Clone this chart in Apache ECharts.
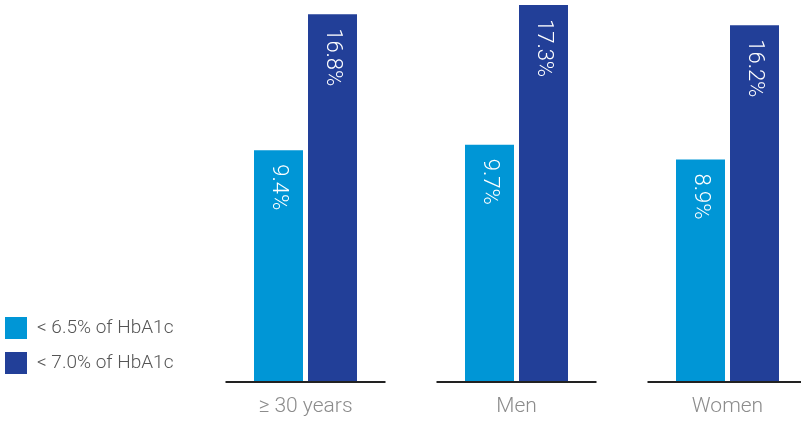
<!DOCTYPE html>
<html>
<head>
<meta charset="utf-8">
<style>
  html, body { margin: 0; padding: 0; background: #ffffff; }
  #chart { width: 801px; height: 423px; }
</style>
<script src="https://cdn.jsdelivr.net/npm/echarts@6/dist/echarts.min.js"></script>
</head>
<body>
<div id="chart"></div>
<script>
// Share of people reaching HbA1c targets, by group
const categories = ['\u2265 30 years', 'Men', 'Women'];
const seriesNames = ['< 6.5% of HbA1c', '< 7.0% of HbA1c'];
const below65 = [9.4, 9.7, 8.9];
const below70 = [16.8, 17.3, 16.2];

// Value axis does not start at zero; bars rise from the axis floor
const Y_MIN = -3.2;
const Y_MAX = 17.3;

const COLORS = ['#0096d6', '#223f98'];
const BAR_W = 49;
const BAR_GAP = 5;
const FONT_FAMILY = 'Roboto, "Liberation Sans", sans-serif';
const LABEL_FONT = '300 22px ' + FONT_FAMILY;

function barRenderer(side) {
  return function (params, api) {
    const idx = api.value(0);
    const val = api.value(1);
    const top = api.coord([idx, val]);
    const base = api.coord([idx, Y_MIN]);
    const left = side < 0 ? top[0] - BAR_GAP / 2 - BAR_W : top[0] + BAR_GAP / 2;
    return {
      type: 'group',
      children: [
        {
          type: 'rect',
          shape: { x: left, y: top[1], width: BAR_W, height: base[1] - top[1] },
          style: { fill: api.visual('color') }
        },
        {
          type: 'text',
          x: left + BAR_W / 2,
          y: top[1] + 14,
          rotation: -Math.PI / 2,
          style: {
            text: val.toFixed(1) + '%',
            fill: '#ffffff',
            font: LABEL_FONT,
            align: 'left',
            verticalAlign: 'middle'
          }
        }
      ]
    };
  };
}

// Short baseline under each pair of bars
function baselineRenderer(params, api) {
  const idx = api.value(0);
  const p = api.coord([idx, Y_MIN]);
  return {
    type: 'line',
    shape: { x1: p[0] - 80, y1: p[1], x2: p[0] + 80, y2: p[1] },
    style: { stroke: '#222222', lineWidth: 2 }
  };
}

const chart = echarts.init(document.getElementById('chart'), null, { renderer: 'canvas' });

chart.setOption({
  animation: false,
  backgroundColor: '#ffffff',
  grid: {
    left: 200,
    right: -32,
    top: 5,
    bottom: 41,
    outerBoundsMode: 'none',
    containLabel: false
  },
  legend: {
    orient: 'vertical',
    left: 5,
    top: 317,
    padding: 0,
    itemWidth: 22,
    itemHeight: 22,
    itemGap: 13,
    selectedMode: false,
    data: seriesNames.map(n => ({ name: n, icon: 'rect' })),
    textStyle: {
      fontFamily: FONT_FAMILY,
      fontWeight: 300,
      fontSize: 19,
      color: '#555555',
      padding: [0, 0, 0, 5]
    }
  },
  xAxis: {
    type: 'category',
    data: categories,
    axisLine: { show: false },
    axisTick: { show: false },
    splitLine: { show: false },
    axisLabel: {
      margin: 14,
      fontFamily: FONT_FAMILY,
      fontWeight: 300,
      fontSize: 21,
      color: '#8c8c8c'
    }
  },
  yAxis: {
    type: 'value',
    min: Y_MIN,
    max: Y_MAX,
    show: false,
    splitLine: { show: false }
  },
  series: [
    {
      name: seriesNames[0],
      type: 'custom',
      itemStyle: { color: COLORS[0] },
      clip: false,
      renderItem: barRenderer(-1),
      data: below65.map((v, i) => [i, v])
    },
    {
      name: seriesNames[1],
      type: 'custom',
      itemStyle: { color: COLORS[1] },
      clip: false,
      renderItem: barRenderer(1),
      data: below70.map((v, i) => [i, v])
    },
    {
      name: 'baseline',
      type: 'custom',
      clip: false,
      silent: true,
      renderItem: baselineRenderer,
      data: categories.map((c, i) => [i])
    }
  ]
});
</script>
</body>
</html>
